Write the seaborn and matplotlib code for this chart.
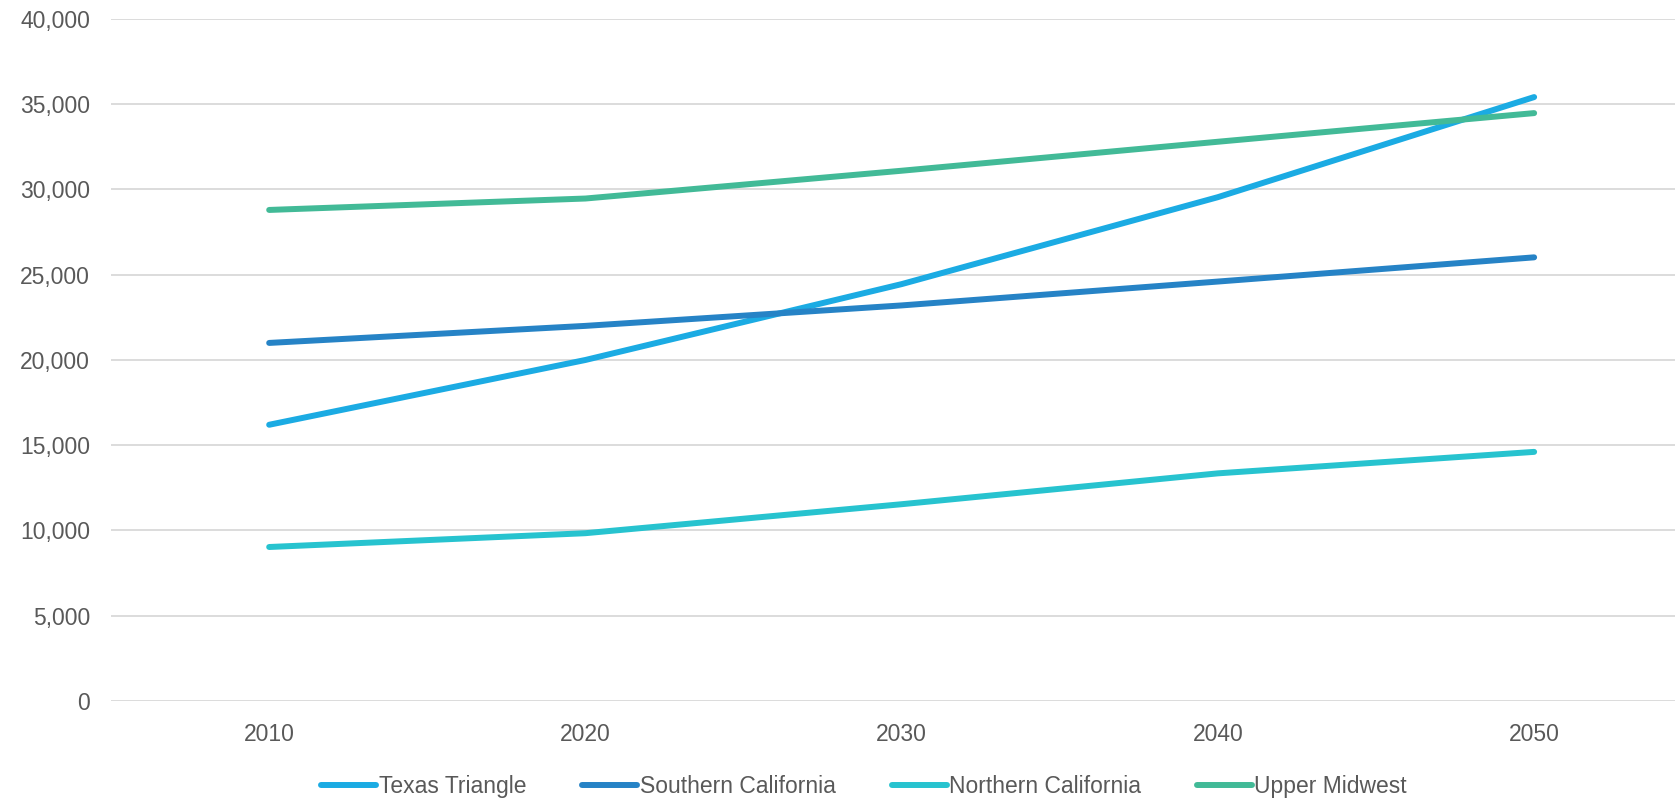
import pandas as pd
import matplotlib
matplotlib.use("Agg")
import matplotlib.pyplot as plt
import seaborn as sns
from matplotlib.ticker import FuncFormatter

years = ["2010", "2020", "2030", "2040", "2050"]
texas_triangle = [16200, 20000, 24450, 29550, 35420]
southern_california = [21000, 22000, 23200, 24600, 26020]
northern_california = [9030, 9840, 11540, 13350, 14610]
upper_midwest = [28800, 29470, 31100, 32800, 34480]

series = {
    "Texas Triangle": texas_triangle,
    "Southern California": southern_california,
    "Northern California": northern_california,
    "Upper Midwest": upper_midwest,
}
colors = ["#1BABE3", "#2683C6", "#27C3CF", "#42BA97"]

rows = []
for name, vals in series.items():
    for y, v in zip(years, vals):
        rows.append({"year": y, "value": v, "region": name})
df = pd.DataFrame(rows)

sns.set_style("white")
plt.rcParams["font.family"] = ["Liberation Sans", "DejaVu Sans"]

fig = plt.figure(figsize=(16.75, 7.98), dpi=100)
ax = fig.add_axes([0.0663, 0.1216, 0.944, 0.8546])

sns.lineplot(data=df, x="year", y="value", hue="region", palette=colors,
             linewidth=4.3, sort=False, ax=ax, legend=False,
             solid_capstyle="round")

ax.set_xlim(-0.5, 4.5)
ax.set_ylim(0, 40000)
ax.set_yticks(range(0, 40001, 5000))
ax.yaxis.set_major_formatter(FuncFormatter(lambda v, p: f"{int(v):,}"))
ax.grid(axis="y", color="#D9D9D9", linewidth=1.3)
ax.set_axisbelow(True)
for s in ax.spines.values():
    s.set_visible(False)
ax.tick_params(axis="both", length=0, labelsize=16.5, colors="#595959")
ax.tick_params(axis="x", pad=16)
ax.tick_params(axis="y", pad=15)
ax.set_xlabel("")
ax.set_ylabel("")

handles = [plt.Line2D([], [], color=c, linewidth=4.3, solid_capstyle="round") for c in colors]
fig.legend(handles, list(series.keys()), loc="center", bbox_to_anchor=(0.516, 0.014),
           ncol=4, frameon=False, fontsize=16.5, handlelength=2.4,
           handletextpad=0.1, columnspacing=2.45, labelcolor="#595959")

fig.savefig("out.png", dpi=100)
